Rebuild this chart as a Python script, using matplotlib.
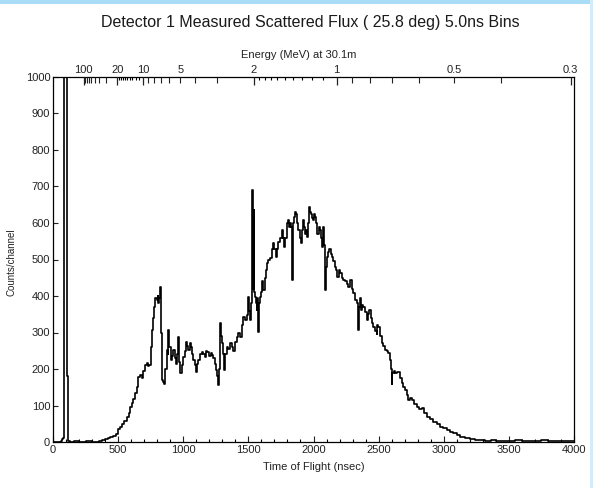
import numpy as np
import matplotlib
matplotlib.use("Agg")
import matplotlib.pyplot as plt
from matplotlib.patches import Rectangle

plt.rcParams['font.family'] = ['Liberation Sans', 'DejaVu Sans']

# ---------------- data ----------------
tof_ns = [0, 60, 70, 80, 85, 105, 112, 118, 130, 160, 200, 250, 300, 350, 380,
          400, 420, 440, 463, 480, 500, 514, 530, 545, 566, 580, 595, 604, 618, 630,
          642, 655, 668, 681, 694, 706, 720, 730, 740, 750, 758, 765, 775, 785, 796,
          803, 809, 815, 821, 828, 834, 843, 852, 862, 873, 880, 886, 893, 903, 914,
          924, 934, 944, 953, 962, 968, 975, 988, 1001, 1011, 1021, 1030, 1039, 1049, 1059,
          1068, 1077, 1088, 1098, 1106, 1115, 1128, 1141, 1154, 1167, 1176, 1185, 1198, 1211, 1221,
          1231, 1241, 1251, 1260, 1269, 1276, 1282, 1288, 1295, 1304, 1313, 1322, 1333, 1345, 1358,
          1372, 1385, 1398, 1410, 1423, 1436, 1448, 1461, 1474, 1487, 1500, 1506, 1512, 1520, 1525,
          1530, 1536, 1540, 1546, 1551, 1558, 1564, 1570, 1577, 1584, 1590, 1596, 1602, 1608, 1615,
          1625, 1635, 1644, 1653, 1665, 1679, 1685, 1692, 1700, 1712, 1720, 1730, 1743, 1756, 1765,
          1774, 1784, 1794, 1800, 1807, 1813, 1820, 1830, 1838, 1843, 1851, 1858, 1866, 1875, 1884,
          1893, 1902, 1910, 1917, 1926, 1935, 1944, 1953, 1960, 1968, 1975, 1979, 1990, 1999, 2007,
          2014, 2022, 2029, 2040, 2049, 2056, 2063, 2070, 2076, 2082, 2088, 2095, 2101, 2110, 2122,
          2131, 2140, 2152, 2165, 2174, 2183, 2193, 2203, 2216, 2229, 2242, 2255, 2268, 2280, 2293,
          2306, 2318, 2331, 2338, 2344, 2350, 2357, 2362, 2372, 2383, 2395, 2408, 2418, 2429, 2440,
          2450, 2459, 2472, 2485, 2491, 2498, 2510, 2524, 2536, 2549, 2562, 2575, 2587, 2594, 2600,
          2606, 2616, 2626, 2638, 2651, 2664, 2677, 2690, 2703, 2716, 2728, 2741, 2754, 2773, 2792,
          2811, 2830, 2850, 2869, 2895, 2920, 2945, 2971, 2996, 3022, 3048, 3073, 3100, 3124, 3160,
          3201, 3240, 3278, 3320, 3360, 3400, 3450, 3500, 3550, 3600, 3650, 3700, 3750, 3800, 3850,
          3900, 3950, 4000]

counts = [0, 3, 8, 12, 3000, 180, 15, 3, 0, 2, 0, 2, 1, 3, 5,
          8, 10, 13, 16, 22, 35, 42, 50, 58, 69, 80, 95, 106, 118, 133,
          150, 179, 183, 176, 195, 211, 216, 208, 212, 260, 307, 340, 370, 395, 389,
          400, 380, 395, 425, 300, 170, 165, 160, 200, 252, 240, 307, 260, 225, 235,
          252, 230, 215, 240, 288, 220, 188, 210, 234, 250, 275, 262, 252, 270, 261,
          240, 225, 210, 193, 215, 225, 240, 247, 240, 234, 250, 247, 235, 243, 238,
          229, 215, 197, 180, 156, 200, 325, 290, 270, 240, 197, 240, 261, 255, 270,
          261, 250, 275, 288, 300, 288, 320, 343, 335, 347, 398, 360, 333, 380, 490,
          690, 420, 636, 410, 398, 380, 361, 395, 301, 380, 398, 410, 425, 440, 416,
          450, 471, 490, 498, 505, 517, 530, 544, 530, 507, 530, 548, 560, 581, 560,
          535, 560, 581, 600, 608, 590, 599, 590, 444, 600, 617, 630, 626, 600, 581,
          560, 544, 580, 608, 590, 571, 580, 562, 600, 644, 630, 626, 615, 608, 625,
          617, 600, 571, 590, 581, 560, 535, 560, 590, 540, 416, 480, 507, 520, 530,
          515, 507, 495, 480, 470, 453, 470, 462, 450, 444, 440, 434, 425, 444, 420,
          407, 390, 380, 360, 307, 370, 394, 361, 375, 370, 355, 334, 350, 361, 340,
          325, 316, 305, 297, 320, 316, 290, 270, 262, 252, 250, 243, 225, 200, 160,
          188, 195, 188, 192, 193, 175, 161, 150, 143, 130, 115, 120, 115, 105, 97,
          90, 94, 80, 69, 62, 55, 48, 42, 37, 33, 28, 24, 18, 15, 10,
          7, 6, 5, 3, 5, 2, 4, 3, 5, 2, 4, 3, 5, 2, 3,
          4, 2, 3]

x_ticks = [0, 500, 1000, 1500, 2000, 2500, 3000, 3500, 4000]
y_ticks = [0, 100, 200, 300, 400, 500, 600, 700, 800, 900, 1000]

# energy-axis ticks (MeV)
energy_long = [100, 20, 10, 2, 1, 0.3]
energy_long_labels = ['100', '20', '10', '2', '1', '0.3']
energy_medium = [90, 80, 70, 60, 50, 40, 30, 9, 8, 7, 6, 5, 4, 3,
                 0.9, 0.8, 0.7, 0.6, 0.5, 0.4]
energy_medium_labeled = {5: '5', 0.5: '0.5'}
energy_small = [19, 18, 17, 16, 15, 14, 13, 12, 11,
                1.9, 1.8, 1.7, 1.6, 1.5, 1.4, 1.3, 1.2, 1.1]

flight_path_m = 30.1
neutron_mass_MeV = 939.565
c_m_per_ns = 0.299792458


def tof_from_energy(E):
    E = np.asarray(E, dtype=float)
    gamma = 1.0 + E / neutron_mass_MeV
    beta = np.sqrt(1.0 - 1.0 / gamma ** 2)
    return flight_path_m / (beta * c_m_per_ns)


# ---------------- figure ----------------
W, H = 593, 488
fig = plt.figure(figsize=(W / 100, H / 100), dpi=100)
fig.patch.set_facecolor('white')

left, right, top, bottom = 53, 574, 77, 442
ax = fig.add_axes([left / W, 1 - bottom / H, (right - left) / W, (bottom - top) / H])
ax.plot(tof_ns, counts, drawstyle='steps-post', color='black', lw=1.2)
ax.set_xlim(0, 4000)
ax.set_ylim(0, 1000)
ax.set_xticks(x_ticks)
ax.set_xticks(np.arange(0, 4001, 100), minor=True)
ax.set_yticks(y_ticks)
ax.tick_params(axis='x', which='major', direction='in', length=4.3, width=0.8,
               labelsize=8, pad=2, top=False, colors='#222222')
ax.tick_params(axis='x', which='minor', direction='in', length=2.5, width=0.8, top=False)
ax.tick_params(axis='y', which='major', direction='in', length=3.6, width=0.8,
               labelsize=8, pad=2, right=False, colors='#222222')
for s in ax.spines.values():
    s.set_linewidth(0.9)
    s.set_color('black')

# top energy axis: long ticks with labels + small ticks
ax_e1 = ax.twiny()
ax_e1.set_xlim(ax.get_xlim())
ax_e1.set_xticks(tof_from_energy(energy_long))
ax_e1.set_xticklabels(energy_long_labels)
ax_e1.set_xticks(tof_from_energy(energy_small), minor=True)
ax_e1.tick_params(axis='x', which='major', direction='in', length=5.8, width=0.9,
                  labelsize=8, pad=1.5, colors='#222222')
ax_e1.tick_params(axis='x', which='minor', direction='in', length=2.2, width=0.8)
for s in ax_e1.spines.values():
    s.set_visible(False)

# medium ticks (two of them labelled)
ax_e2 = ax.twiny()
ax_e2.set_xlim(ax.get_xlim())
ax_e2.set_xticks(tof_from_energy(energy_medium))
ax_e2.set_xticklabels([energy_medium_labeled.get(e, '') for e in energy_medium])
ax_e2.tick_params(axis='x', which='major', direction='in', length=4.3, width=0.8,
                  labelsize=8, pad=1.5, colors='#222222')
for s in ax_e2.spines.values():
    s.set_visible(False)

# texts
fig.text(310 / W, 1 - 22 / H, 'Detector 1 Measured Scattered Flux ( 25.8 deg) 5.0ns Bins',
         ha='center', va='center', fontsize=11.5, color='#1a1a1a')
fig.text(299 / W, 1 - 55 / H, 'Energy (MeV) at 30.1m', ha='center', va='center',
         fontsize=8, color='#222222')
fig.text(314 / W, 1 - 467 / H, 'Time of Flight (nsec)', ha='center', va='center',
         fontsize=8, color='#222222')
fig.text(12 / W, 1 - 262 / H, 'Counts/channel', ha='center', va='center',
         rotation=90, fontsize=7, color='#222222')

# light blue frame decoration at top edge and right edge
fig.patches.append(Rectangle((0, 1 - 4 / H), 1, 4 / H, transform=fig.transFigure,
                             facecolor='#a9ddf6', edgecolor='none'))
fig.patches.append(Rectangle((1 - 3 / W, 0), 3 / W, 1, transform=fig.transFigure,
                             facecolor='#d3ecf9', edgecolor='none'))

fig.savefig('out.png', dpi=100)
